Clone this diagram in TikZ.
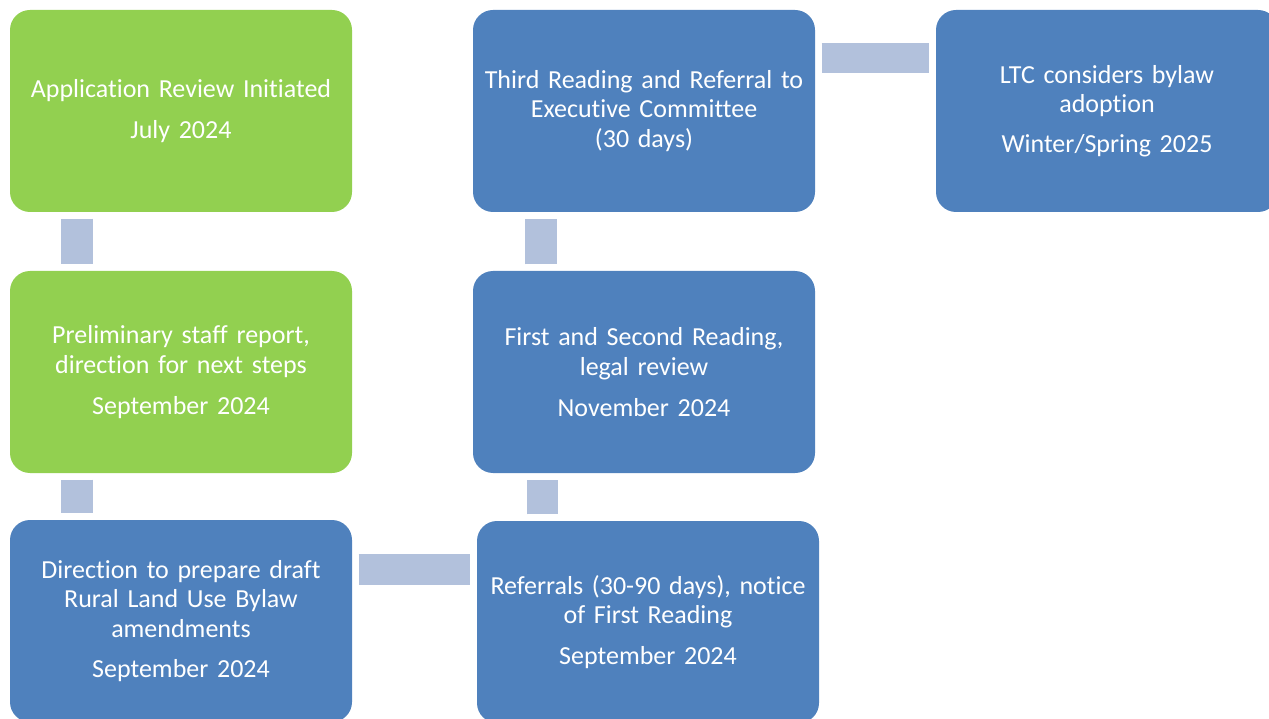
\documentclass[tikz,border=0pt]{standalone}
\usepackage{fontspec}
\setmainfont{Carlito}[Ligatures=NoCommon]
\usetikzlibrary{positioning, calc}
\definecolor{leafgreen}{RGB}{146, 208, 80}
\definecolor{stepblue}{RGB}{79, 129, 189}
\definecolor{linkblue}{RGB}{178, 193, 220}

\begin{document}
\begin{tikzpicture}[x=1pt, y=-1pt,
      stage/.style={rectangle, fill=stepblue, text=white, text width=330pt, inner sep=6pt, align=center, rounded corners=20pt, minimum height=202pt, font=\fontsize{26}{29.5}\selectfont},
      done/.style={stage, fill=leafgreen},
      link/.style={draw=linkblue, line width=#1, shorten <=6.5pt, shorten >=6.5pt},
      link/.default=32pt
   ]
      \clip (0,0) rectangle (1269,719);

      % Column 1 (top to bottom)
      \node (review)  [done]  at (181,111) {Application Review Initiated\\[11.5pt] July 2024};
      \node (prelim)  [done]  at (181,372) {Preliminary staff report,\\ direction for next steps\\[11.5pt] September 2024};
      \node (draft)   [stage] at (181,621) {Direction to prepare draft\\ Rural Land Use Bylaw\\ amendments\\[11pt] September 2024};

      % Column 2 (bottom to top)
      \node (refer)   [stage] at (648,622) {Referrals (30-90 days), notice\\ of First Reading\\[11.5pt] September 2024};
      \node (first)   [stage] at (644,372) {First and Second Reading,\\ legal review\\[11.5pt] November 2024};
      \node (third)   [stage] at (644,111) {Third Reading and Referral to\\ Executive Committee\\ (30 days)};

      % Column 3
      \node (adopt)   [stage] at (1107,111) {LTC considers bylaw\\ adoption\\[10.5pt] Winter/Spring 2025};

      % Column 1 links
      \draw[link] ([xshift=-104pt]review.south) -- ([xshift=-104pt]prelim.north);
      \draw[link] ([xshift=-104pt]prelim.south) -- ([xshift=-104pt]draft.north);

      % Across the bottom
      \draw[link=31pt] ([yshift=51.5pt]draft.east) -- ([yshift=51.5pt]draft.east -| refer.west);

      % Column 2 links
      \draw[link=31pt] ([xshift=-105.5pt]refer.north) -- ([xshift=-105.5pt]refer.north |- first.south);
      \draw[link] ([xshift=-103pt]first.north) -- ([xshift=-103pt]third.south);

      % Across the top
      \draw[link=30pt] ([yshift=53pt]third.east) -- ([yshift=53pt]third.east -| adopt.west);
   \end{tikzpicture}
\end{document}
